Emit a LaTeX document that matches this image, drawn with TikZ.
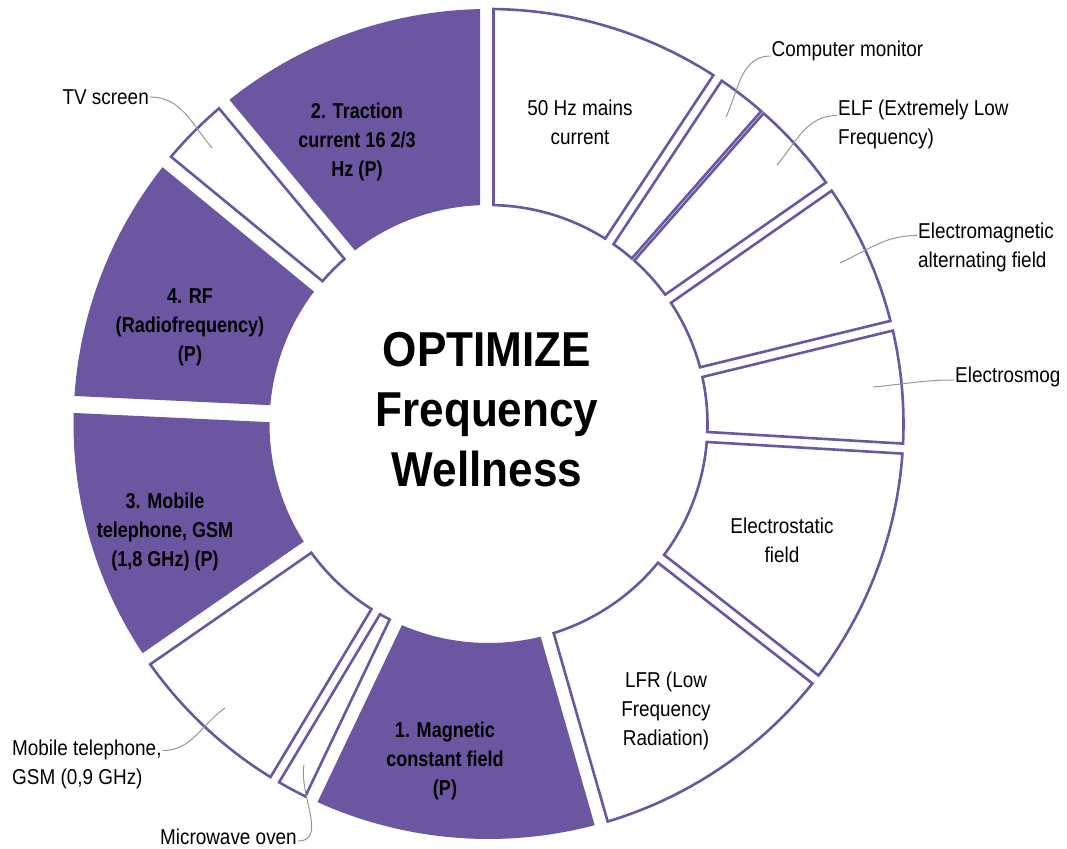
\documentclass[tikz,border=0pt]{standalone}
\usepackage{fontspec}
\setmainfont[FakeStretch=0.88]{Liberation Sans}
\newfontfamily\headfont[FakeStretch=0.9]{Liberation Sans}
\newfontfamily\segfont[FakeStretch=0.84]{Liberation Sans}
\definecolor{chartpurple}{RGB}{106,86,161}
\definecolor{leadgray}{RGB}{150,150,150}
\newcommand{\Ro}{415}
\newcommand{\Ri}{219}
% ring segment: lo angle, hi angle, lo gap, hi gap, style
\newcommand{\ringseg}[5]{%
  \path[#5] ({#1+asin(#3/\Ro)}:\Ro) arc[start angle={#1+asin(#3/\Ro)},end angle={#2-asin(#4/\Ro)},radius=\Ro]
    -- ({#2-asin(#4/\Ri)}:\Ri) arc[start angle={#2-asin(#4/\Ri)},end angle={#1+asin(#3/\Ri)},radius=\Ri] -- cycle;}

\begin{document}
\begin{tikzpicture}
[x=1pt,y=1pt,
 wseg/.style={draw=chartpurple,line width=2.6pt,fill=white,line join=miter},
 pseg/.style={fill=chartpurple},
 lbl/.style={align=center,font=\fontsize{21.5}{29}\selectfont},
 plbl/.style={align=center,font=\segfont\bfseries\fontsize{21.5}{29}\selectfont},
 side/.style={align=left,inner sep=1pt,font=\fontsize{21.5}{29}\selectfont},
 lead/.style={draw=leadgray,line width=1pt}]
\useasboundingbox (-488.5,-424) rectangle (578.5,424);
% ring, counterclockwise angles
\ringseg{90}{129.8}{8.5}{8.5}{pseg}
\ringseg{56.5}{90}{5}{5}{wseg}
\ringseg{48.7}{56.5}{1.6}{5}{wseg}
\ringseg{34.9}{48.7}{5}{1.6}{wseg}
\ringseg{13.7}{34.9}{5}{5}{wseg}
\ringseg{-3.4}{13.7}{5}{5}{wseg}
\ringseg{-38}{-3.4}{5}{5}{wseg}
\ringseg{-74}{-38}{5}{5}{wseg}
\ringseg{-115.5}{-74}{8.5}{8.5}{pseg}
\ringseg{-121}{-115.5}{5}{5}{wseg}
\ringseg{-145.3}{-121}{5}{5}{wseg}
\ringseg{-182.7}{-145.3}{8.5}{8.5}{pseg}
\ringseg{140.6}{177.3}{8.5}{8.5}{pseg}
\ringseg{129.8}{140.6}{5}{5}{wseg}
% centre
\node[align=center,font={\headfont\bfseries\fontsize{49}{60}\selectfont}] (title) at (-1.5,14.5) {OPTIMIZE\\Frequency\\Wellness};
% labels in the ring
\node[lbl]  (mains)    at (91.5,302)    {50 Hz mains\\current};
\node[plbl] (traction) at (-131.5,282)  {2. Traction\\current 16 2/3\\Hz (P)};
\node[plbl] (rf)       at (-298.5,97)   {4. RF\\(Radiofrequency)\\(P)};
\node[plbl] (gsmhigh)  at (-323.5,-108) {3. Mobile\\telephone, GSM\\(1,8 GHz) (P)};
\node[plbl] (magnetic) at (-43.5,-337)  {1. Magnetic\\constant field\\(P)};
\node[lbl]  (lfr)      at (177.5,-287)  {LFR (Low\\Frequency\\Radiation)};
\node[lbl]  (static)   at (293.5,-116)  {Electrostatic\\field};
% labels outside
\node[side,anchor=west] (monitor) at (282,373)       {Computer monitor};
\node[side,anchor=west] (elf)     at (348.5,299.5)   {ELF (Extremely Low\\Frequency)};
\node[side,anchor=west] (eaf)     at (428.5,176.5)   {Electromagnetic\\alternating field};
\node[side,anchor=west] (smog)    at (465.5,47)      {Electrosmog};
\node[side,anchor=east] (tv)      at (-338.5,327)    {TV screen};
\node[side,anchor=west] (gsmlow)  at (-477.5,-340.5) {Mobile telephone,\\GSM (0,9 GHz)};
\node[side,anchor=east] (oven)    at (-190.5,-413)   {Microwave oven};
\coordinate (monitorpt) at (237.5,307);
\coordinate (elfpt)     at (288.5,259);
\coordinate (eafpt)     at (351.5,161);
\coordinate (smogpt)    at (384.5,37);
\coordinate (tvpt)      at (-276.5,276);
\coordinate (gsmlowpt)  at (-263.5,-284);
\coordinate (ovenpt)    at (-184.5,-341);
\draw[lead] (monitorpt) to[out=65,in=180]  ([yshift=-5pt]monitor.west);
\draw[lead] (elfpt)     to[out=50,in=180]  ([yshift=9pt]elf.west);
\draw[lead] (eafpt)     to[out=25,in=180]  ([yshift=12pt]eaf.west);
\draw[lead] (smogpt)    to[out=5,in=180]   ([yshift=-3pt]smog.west);
\draw[lead] (tvpt)      to[out=130,in=0]   (tv.east);
\draw[lead] (gsmlowpt)  to[out=215,in=0]   ([yshift=14pt]gsmlow.east);
\draw[lead] (ovenpt)    to[out=-100,in=0]  ([yshift=-4pt]oven.east);
\end{tikzpicture}
\end{document}
